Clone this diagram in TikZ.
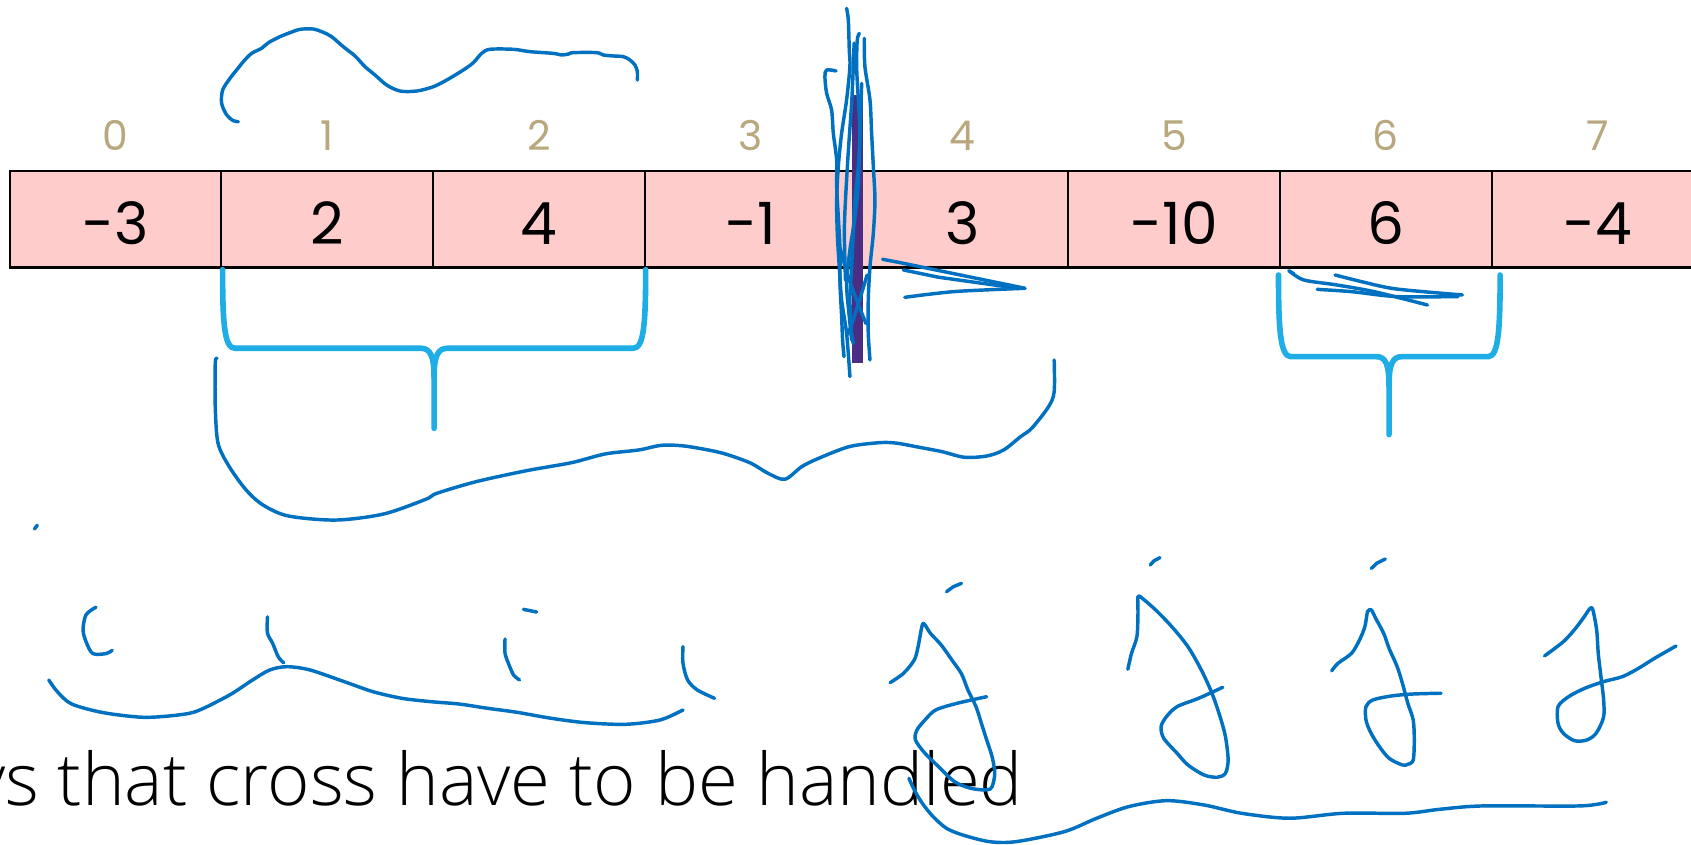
\documentclass[tikz,border=0pt]{standalone}
\usepackage{fontspec}
\setmainfont{Poppins}
\IfFontExistsTF{Open Sans Light}{\newfontfamily\osans{Open Sans Light}}{\newfontfamily\osans{Open Sans}}
\definecolor{ink}{HTML}{0070C0}
\definecolor{cyanb}{HTML}{1EADE4}
\definecolor{cellpink}{HTML}{FFCCCC}
\definecolor{idxtan}{HTML}{B9A87E}
\definecolor{cursorc}{HTML}{4B2D83}
\begin{document}
\begin{tikzpicture}[x=0.5pt,y=-0.5pt,
 inkline/.style={draw=ink, line width=1.6pt, line cap=round, line join=round},
 bracel/.style={draw=cyanb, line width=2.6pt, line cap=round, line join=round},
 cellbox/.style={draw=black, fill=cellpink, line width=1pt, minimum width=98.15pt, minimum height=44.75pt, inner sep=0pt, outer sep=0pt},
 idxlab/.style={text=idxtan, font=\fontsize{19}{22}\selectfont, inner sep=0pt},
 vallab/.style={text=black, font=\fontsize{27}{30}\selectfont, inner sep=0pt},
 bigtext/.style={text=black, font=\osans\fontsize{33.6}{40}\selectfont, inner sep=0pt}]
\useasboundingbox (0,0) rectangle (1568,783);
\fill[white] (0,0) rectangle (1568,783);
% array
\foreach \v [count=\i from 0] in {-3,2,4,-1,3,-10,6,-4} {
  \node[cellbox] (c\i) at ({9+196.3*(\i+0.5)},203.25) {};
  \node[vallab] (v\i) at ({9+196.3*(\i+0.5)},207) {\v};
  \node[idxlab] (n\i) at ({9+196.3*(\i+0.5)},125.5) {\i};
}
% cyan braces
\draw[bracel] (206.4,250) .. controls (206.4,300) and (208,322.9) .. (217.8,322.9) -- (390,322.9) .. controls (399,322.9) and (402.5,330) .. (402.5,350) -- (402.5,397.2);
\draw[bracel] (598.7,250) .. controls (598.7,300) and (597,322.9) .. (587.3,322.9) -- (415,322.9) .. controls (406,322.9) and (402.5,330) .. (402.5,350);
\draw[bracel] (1185.5,255) .. controls (1185.5,305) and (1187,330.7) .. (1197,330.7) -- (1276,330.7) .. controls (1285,330.7) and (1288,338) .. (1288,358) -- (1288,403);
\draw[bracel] (1391,255) .. controls (1391,305) and (1389.5,330.7) .. (1380,330.7) -- (1300,330.7) .. controls (1291,330.7) and (1288,338) .. (1288,358);
% cursor bar
\fill[cursorc] (789.7,88) rectangle (799.9,337);
% top arc
\draw[inkline] plot[smooth, tension=0.5] coordinates {(221.0,112.8) (216.3,111.9) (210.2,106.6) (205.5,95.8) (206.5,83.4) (213.3,72.6) (219.4,64.9) (225.6,57.2) (233.3,49.5) (242.6,44.8) (248.8,39.6) (259.6,34.0) (268.9,30.3) (278.2,27.2) (290.5,26.9) (299.8,30.0) (307.5,34.0) (318.3,43.3) (329.2,51.9) (338.4,61.8) (347.7,69.5) (358.5,78.8) (370.9,84.4) (386.3,84.4) (401.8,80.4) (414.2,74.2) (429.6,64.9) (438.9,58.1) (446.6,49.5) (454.3,45.7) (475.9,45.7) (491.4,47.9) (513.1,49.5) (520.8,51.0) (527.0,50.1) (531.6,48.8) (553.2,48.8) (559.4,51.0) (568.7,51.9) (577.9,52.5) (584.1,55.6) (588.8,60.3) (591.0,66.4) (591.0,74.2)};
% vertical scribble
\draw[inkline] plot[smooth, tension=0.5] coordinates {(775.2,65.8) (766.5,64.9) (764.9,71.1) (766.5,86.5) (771.1,102.0) (772.7,123.6) (775.8,148.4) (775.8,173.1) (777.3,200.9) (778.9,231.8) (778.9,262.7) (780.4,293.6) (781.3,315.3) (782.6,330.7)};
\draw[inkline] plot[smooth, tension=0.5] coordinates {(785.0,7.7) (786.6,18.5) (787.5,46.4) (788.1,61.8) (785.0,92.7) (780.4,123.6) (777.3,154.5) (775.8,185.4) (776.4,216.3) (778.2,247.3) (780.4,278.2) (785.0,309.1) (788.1,349.2)};
\draw[inkline] plot[smooth, tension=0.5] coordinates {(796.8,30.9) (794.9,37.1) (794.3,61.8) (795.9,92.7) (797.4,123.6) (795.9,154.5) (792.8,185.4) (791.2,216.3) (789.7,247.3) (788.1,278.2) (789.7,309.1) (791.2,318.3)};
\draw[inkline] plot[smooth, tension=0.5] coordinates {(801.4,35.5) (802.0,61.8) (806.7,92.7) (808.2,123.6) (809.8,154.5) (811.3,185.4) (809.8,216.3) (806.7,247.3) (805.1,278.2) (805.1,309.1) (806.7,333.8)};
\draw[inkline] plot[smooth, tension=0.5] coordinates {(799.0,77.3) (797.4,123.6) (795.9,170.0) (792.8,200.9) (788.1,231.8) (785.0,262.7) (787.5,293.6) (789.7,315.3)};
\draw[inkline] plot[smooth, tension=0.5] coordinates {(779,230) (786,255) (795,280) (803,300)};
\draw[inkline] plot[smooth, tension=0.5] coordinates {(804,255) (798,275) (790,300) (786,310)};
\draw[inkline] plot[smooth, tension=0.5] coordinates {(792,40) (790,90) (786,150) (783,210) (784,260)};
% > scribble under cell 4
\draw[inkline] (818.4,240.4) -- (837,244) -- (950.4,267.3);
\draw[inkline] (837.6,250.3) -- (870,257) -- (945,267.5);
\draw[inkline] plot[smooth, tension=0.5] coordinates {(839,275.7) (860,273) (890,270) (950.4,267.3)};
% scribble under cell 6
\draw[inkline] plot[smooth, tension=0.5] coordinates {(1200,254) (1195,251) (1209,259.6) (1238,264) (1274.6,270.5) (1323.6,282.8)};
\draw[inkline] plot[smooth, tension=0.5] coordinates {(1238,255) (1266,262) (1295,268) (1356,273.5)};
\draw[inkline] plot[smooth, tension=0.5] coordinates {(1221.4,268.3) (1254,270.5) (1295,275) (1352,275)};
% big lower curve
\draw[inkline] plot[smooth, tension=0.5] coordinates {(201.15,332.2) (199.6,336.9) (199.6,377.1) (202.2,411.1) (212.6,432.7) (228.2,454.3) (243.8,468.2) (267.2,478.4) (311.5,482.2) (355.7,476.6) (394.7,463.0) (405.1,457.4) (441.6,446.6) (488.4,436.4) (530.0,429.0) (561.2,420.9) (592.5,417.2) (613.3,412.9) (634.1,413.5) (660.1,417.9) (675.7,421.9) (696.5,429.6) (712.2,438.9) (727.8,444.4) (743.4,432.7) (759.0,425.0) (787.6,414.1) (816.3,410.4) (831.9,411.0) (852.7,414.8) (873.5,418.8) (894.3,424.0) (915.1,422.8) (930.7,417.2) (946.3,404.9) (956.7,397.1) (972.3,377.1) (977.5,363.2) (977.5,333.8)};
% dot
\draw[inkline] (32,490.5) -- (34.6,487);
% lower left strokes
\draw[inkline] plot[smooth, tension=0.5] coordinates {(89,563) (79.8,570) (77,584) (79.8,595) (86,606) (98.5,606) (104,603)};
\draw[inkline] plot[smooth, tension=0.5] coordinates {(248,572) (248,587) (252.8,596.5) (258,609) (263,614.5)};
\draw[inkline] (485.4,565) -- (497.6,567.5);
\draw[inkline] plot[smooth, tension=0.5] coordinates {(468.3,592.5) (468.3,605.8) (472.6,618) (476.3,626) (481.7,630.5)};
\draw[inkline] plot[smooth, tension=0.5] coordinates {(633.3,599.6) (633.3,615) (637.6,630.5) (646.6,639.8) (662.6,647.5)};
\draw[inkline] plot[smooth, tension=0.5] coordinates {(45.2,630.5) (53.2,641.4) (66.5,652.8) (95.8,660.8) (133,665.1) (165,663) (183.6,659) (212.9,644.4) (234.2,630.5) (250.2,621.2) (266.1,618.2) (287.4,621.2) (319.3,632.1) (346,641.4) (372.6,647.5) (399.2,650.6) (425.8,652.8) (452.4,656.8) (479,660.4) (510.9,666) (542.9,670.1) (580.2,671.6) (612,667.6) (633.3,658.3)};
% bottom text
\node[bigtext, anchor=base east] (txt) at (949,747) {ys that cross have to be handled};
% J shapes
\draw[inkline] (877.7,548.6) -- (884,544) -- (891.6,540.9);
\draw[inkline] plot[smooth, tension=0.5] coordinates {(825.4,633.0) (837.8,624.3) (847.8,611.9) (851.3,599.6) (855.2,579.5) (857.7,579.5) (862.7,587.2) (872.7,598.0) (882.6,611.9) (891.6,624.9) (897.5,639.8) (905.0,655.2) (910.0,670.7) (914.9,686.1) (919.9,701.6) (922.4,717.0) (919.9,729.4) (914.9,732.5) (900.0,730.9) (885.1,724.8) (870.2,710.8) (857.7,698.5) (848.8,686.1) (850.3,676.8) (857.7,667.6) (867.7,658.3) (887.6,652.1) (914.9,646.0)};
\draw[inkline] plot[smooth, tension=0.5] coordinates {(842.8,721.7) (847.8,732.5) (855.2,744.8) (865.2,757.2) (877.6,768.0) (892.6,774.2) (917.4,780.4) (942.3,780.4) (987.1,771.1) (1016.9,758.7) (1046.7,747.9) (1081.6,742.4) (1116.4,746.4) (1151.2,754.1) (1195.9,758.7) (1245.7,754.1) (1302.9,754.1) (1335.2,750.4) (1374.9,747.3) (1464.6,747.3) (1489.4,743.9)};
\draw[inkline] (1066.6,523.9) -- (1070,520) -- (1075.6,517.1);
\draw[inkline] plot[smooth, tension=0.5] coordinates {(1045.8,620.6) (1049.2,605.8) (1054.2,590.3) (1055.2,568.7) (1055.2,553.2) (1059.2,554.8) (1071.6,565.6) (1086.5,581.0) (1101.5,599.6) (1113.9,621.2) (1123.8,642.8) (1131.3,664.5) (1136.3,683.0) (1138.8,704.7) (1136.3,717.0) (1128.8,720.7) (1116.4,718.6) (1101.5,709.3) (1091.5,698.5) (1079.1,684.6) (1076.6,673.8) (1081.6,664.5) (1091.5,655.2) (1111.4,647.5) (1133.8,637.3)};
\draw[inkline] (1271.6,527.0) -- (1277,522) -- (1284.5,518.3);
\draw[inkline] plot[smooth, tension=0.5] coordinates {(1234.8,622.1) (1240.7,615.0) (1253.2,605.8) (1260.6,593.4) (1265.6,581.0) (1268.1,567.1) (1271.6,565.6) (1275.6,573.3) (1283.0,587.2) (1288.0,601.1) (1295.5,618.1) (1300.4,633.6) (1305.4,652.1) (1310.4,667.6) (1311.4,686.1) (1310.4,704.7) (1305.4,708.7) (1300.4,709.3) (1288.0,703.1) (1278.0,690.8) (1270.6,678.4) (1266.6,667.6) (1266.6,655.2) (1273.1,649.0) (1290.5,645.3) (1310.4,643.5) (1336.2,642.8)};
\draw[inkline] plot[smooth, tension=0.5] coordinates {(1432.2,608.2) (1439.7,602.7) (1449.6,595.0) (1457.1,587.2) (1464.6,577.9) (1469.5,571.1) (1474.5,564.0) (1477.0,565.6) (1480.5,584.1) (1482.0,605.8) (1484.5,627.4) (1487.0,649.0) (1487.0,664.5) (1482.0,676.8) (1477.0,683.0) (1469.5,686.7) (1459.6,686.7) (1449.6,679.9) (1444.7,670.7) (1444.7,655.2) (1454.6,645.9) (1469.5,638.2) (1487.0,632.0) (1504.4,627.4) (1519.3,619.7) (1534.2,610.4) (1554.1,599.0)};
\end{tikzpicture}
\end{document}
